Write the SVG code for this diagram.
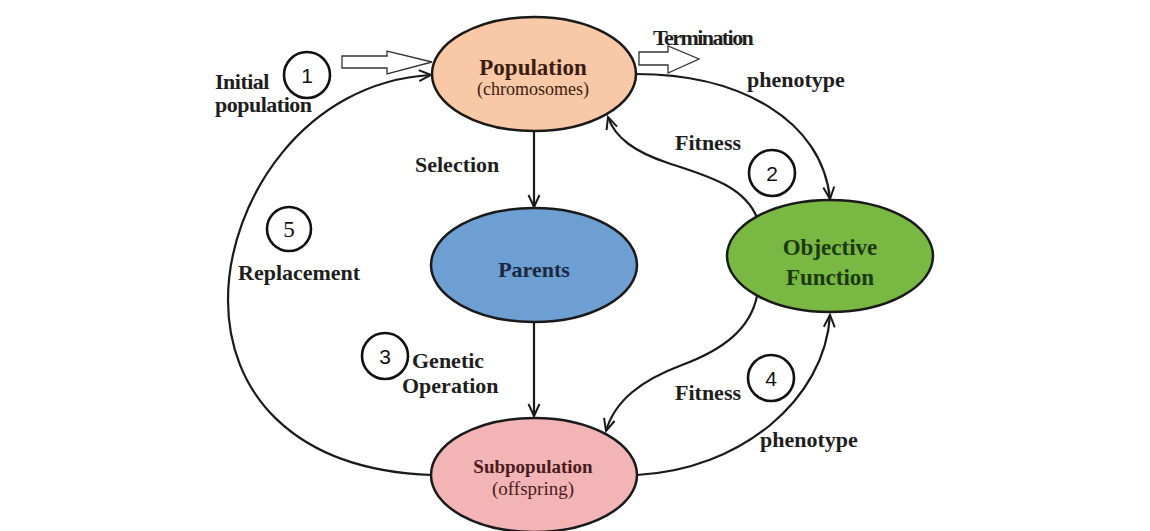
<svg xmlns="http://www.w3.org/2000/svg" width="1150" height="531" viewBox="0 0 1150 531">
<defs>
<style>
.node{stroke:#1a1a1a;stroke-width:2.5}
.lbl{font-family:"Liberation Serif","Times New Roman",serif;font-weight:bold;font-size:22px;fill:#1e1e1e}
.ntx{font-family:"Liberation Serif","Times New Roman",serif;text-anchor:middle}
.num{fill:none;stroke:#111;stroke-width:2.6}
.digit{font-family:"Liberation Sans",Arial,sans-serif;font-size:21px;fill:#111;text-anchor:middle}
.conn{fill:none;stroke:#1a1a1a;stroke-width:2.2}
.hollow{fill:#fff;stroke:#333;stroke-width:1.3}
</style>
<marker id="arr" markerUnits="userSpaceOnUse" markerWidth="16" markerHeight="14" refX="13" refY="7" orient="auto">
<path d="M1,1.5 L13,7 L1,12.5" fill="none" stroke="#1a1a1a" stroke-width="2"/>
</marker>
</defs>
<rect width="1150" height="531" fill="#fff"/>
<g id="connectors">
<line class="conn" x1="534" y1="132" x2="534" y2="207" marker-end="url(#arr)"/>
<line class="conn" x1="534" y1="322" x2="534" y2="416" marker-end="url(#arr)"/>
<path class="conn" d="M636 74 C740 74 822 120 830 199" marker-end="url(#arr)"/>
<path class="conn" d="M757 218 C745 186 705 175 668 163 C635 152 615 138 608 117" marker-end="url(#arr)"/>
<path class="conn" d="M757 296 C750 330 722 350 682 365 C642 380 615 400 606 431" marker-end="url(#arr)"/>
<path class="conn" d="M637 475 C740 470 825 400 830 315" marker-end="url(#arr)"/>
<path class="conn" d="M432 475 C290 470 228 390 228 300 C228 200 305 82 431 75" marker-end="url(#arr)"/>
<polygon class="hollow" points="342,56 387,56 387,51 432,62 387,74 387,68 342,68"/>
<polygon class="hollow" points="639,52 668,52 668,46 699,59 668,73 668,65 639,65"/>
</g>
<g id="population">
<ellipse class="node" cx="534" cy="74" rx="102" ry="57" fill="#f9c8a6"/>
<text class="ntx" x="533" y="75" font-size="23" font-weight="bold" fill="#3b1d10">Population</text>
<text class="ntx" x="533" y="95" font-size="18" fill="#3b1d10">(chromosomes)</text>
</g>
<g id="parents">
<ellipse class="node" cx="534" cy="265" rx="103" ry="57" fill="#6e9fd3"/>
<text class="ntx" x="534" y="277" font-size="22" font-weight="bold" fill="#1c2840">Parents</text>
</g>
<g id="objective">
<ellipse class="node" cx="830" cy="256" rx="103" ry="56" fill="#78b843"/>
<text class="ntx" x="830" y="255" font-size="23" font-weight="bold" fill="#1c3a10">Objective</text>
<text class="ntx" x="830" y="285" font-size="23" font-weight="bold" fill="#1c3a10">Function</text>
</g>
<g id="subpopulation">
<ellipse class="node" cx="534" cy="475" rx="103" ry="57" fill="#f3b4b6"/>
<text class="ntx" x="533" y="473" font-size="19" font-weight="bold" fill="#4a1a20">Subpopulation</text>
<text class="ntx" x="533" y="495" font-size="19" fill="#4a1a20">(offspring)</text>
</g>
<g id="labels">
<text class="lbl" x="215" y="89" font-size="18" letter-spacing="-0.5">Initial</text>
<text class="lbl" x="215" y="112" font-size="18" letter-spacing="-0.5">population</text>
<text class="lbl" x="653" y="45" font-size="20" letter-spacing="-0.8" textLength="100">Termination</text>
<text class="lbl" x="747" y="87" font-size="23">phenotype</text>
<text class="lbl" x="675" y="150" font-size="23">Fitness</text>
<text class="lbl" x="415" y="172" font-size="23">Selection</text>
<text class="lbl" x="238" y="280" font-size="23">Replacement</text>
<text class="lbl" x="412" y="368" font-size="23">Genetic</text>
<text class="lbl" x="402" y="393" font-size="23">Operation</text>
<text class="lbl" x="675" y="400" font-size="23">Fitness</text>
<text class="lbl" x="760" y="447" font-size="23">phenotype</text>
</g>
<g id="step1"><circle class="num" cx="307" cy="75" r="23"/><text class="digit" x="307" y="83">1</text></g>
<g id="step2"><circle class="num" cx="772" cy="173" r="23"/><text class="digit" x="772" y="181">2</text></g>
<g id="step3"><circle class="num" cx="385" cy="356" r="23"/><text class="digit" x="385" y="364">3</text></g>
<g id="step4"><circle class="num" cx="771" cy="378" r="23"/><text class="digit" x="771" y="386">4</text></g>
<g id="step5"><circle class="num" cx="289" cy="229" r="22"/><text class="digit" x="289" y="237" style="font-family:'Liberation Serif',serif;font-size:23px">5</text></g>
</svg>
